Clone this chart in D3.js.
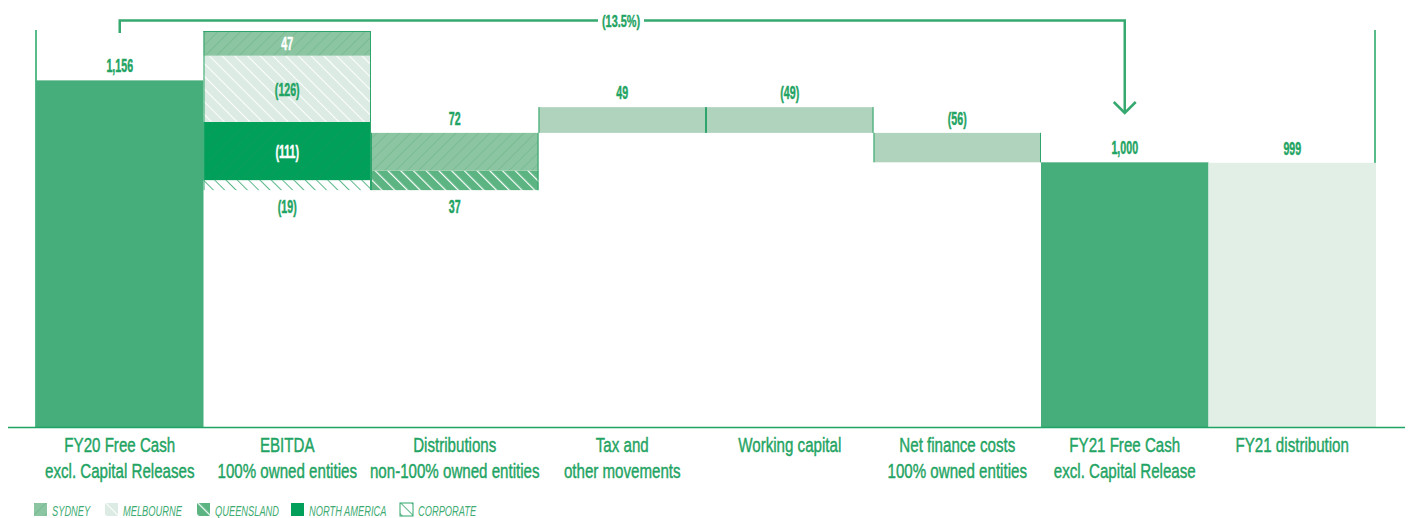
<!DOCTYPE html>
<html>
<head>
<meta charset="utf-8">
<script src="https://cdn.jsdelivr.net/npm/d3@7"></script>
<style>
  body { margin: 0; background: #fff; }
  svg { display: block; }
  text { font-family: "Liberation Sans", Arial, sans-serif; }
</style>
</head>
<body>
<script>
// categories along the bottom (one array entry per line)
var categories = [
  ["FY20 Free Cash", "excl. Capital Releases"],
  ["EBITDA", "100% owned entities"],
  ["Distributions", "non-100% owned entities"],
  ["Tax and", "other movements"],
  ["Working capital"],
  ["Net finance costs", "100% owned entities"],
  ["FY21 Free Cash", "excl. Capital Release"],
  ["FY21 distribution"]
];

var regions = ["Sydney", "Melbourne", "Queensland", "North America", "Corporate"];

// $m values
var fy20Total = 1156;
var ebitdaByRegion = [47, -126, 0, -111, -19];
var distribByRegion = [72, 0, 37, 0, 0];
var otherMoves = [49, -49, -56];   // tax, working capital, net finance
var fy21Total = 1000;
var fy21Distribution = 999;
var changeLabel = "(13.5%)";

var width = 1408,
    height = 518;

var green = "#1fa463";

var svg = d3.select("body").append("svg")
    .attr("width", width)
    .attr("height", height);

var defs = svg.append("defs");

function pid(r) { return "pat-" + r.replace(/\s+/g, "-"); }

// hatch patterns, one per region
function hatch(r, bg, line, lw, size, dir) {
  var p = defs.append("pattern")
      .attr("id", pid(r))
      .attr("patternUnits", "userSpaceOnUse")
      .attr("width", size)
      .attr("height", size)
      .attr("patternTransform", "rotate(" + (dir > 0 ? 45 : -45) + ")");
  p.append("rect").attr("width", size).attr("height", size).attr("fill", bg);
  p.append("line")
      .attr("x1", 0).attr("y1", 0).attr("x2", 0).attr("y2", size)
      .attr("stroke", line).attr("stroke-width", lw);
}
hatch("Sydney", "#8cc5a1", "#6cb68b", 1.2, 8, 1);
hatch("Melbourne", "#dcebe3", "#ffffff", 2, 9, -1);
hatch("Queensland", "#5cb482", "#ffffff", 2.4, 9, -1);
hatch("North America", "#00a05a", "#17995c", 1, 9, 1);
hatch("Corporate", "#ffffff", "#2ea56b", 1.6, 8, -1);

var regionFill = function(r) { return "url(#" + pid(r) + ")"; };
var regionText = { "Sydney": "#fff", "Melbourne": green, "Queensland": "#fff", "North America": "#fff", "Corporate": green };

// condensed look: squeeze text horizontally around its anchor
function squeeze(sel, sx) {
  sel.attr("transform", function() {
    var t = d3.select(this);
    return "translate(" + t.attr("x") + "," + t.attr("y") + ") scale(" + sx + ",1)";
  }).attr("x", 0).attr("y", 0);
}

var x = d3.scaleBand()
    .domain(d3.range(categories.length))
    .range([36, 1376])
    .padding(0);

var y = d3.scaleLinear()
    .domain([496, 1250])
    .range([427, 31]);

var fmt = d3.format(",");
function label(v) { return v < 0 ? "(" + fmt(-v) + ")" : fmt(v); }

// build the waterfall steps
var steps = [];
var level = fy20Total;
steps.push({ i: 0, segs: [{ lo: y.domain()[0], hi: fy20Total, fill: "#46ae7a", v: fy20Total }] });

function breakdown(i, byRegion) {
  var net = d3.sum(byRegion);
  var base = Math.min(level, level + net);
  var segs = [];
  var cur = base;
  for (var k = regions.length - 1; k >= 0; k--) {
    var v = byRegion[k];
    if (!v) continue;
    segs.push({ lo: cur, hi: cur + Math.abs(v), fill: regionFill(regions[k]), v: v, region: regions[k] });
    cur += Math.abs(v);
  }
  level += net;
  steps.push({ i: i, segs: segs, breakdown: true });
}
breakdown(1, ebitdaByRegion);
breakdown(2, distribByRegion);

otherMoves.forEach(function(v, k) {
  var lo = Math.min(level, level + v), hi = Math.max(level, level + v);
  steps.push({ i: 3 + k, segs: [{ lo: lo, hi: hi, fill: "#b0d3bd", v: v }] });
  level += v;
});

steps.push({ i: 6, segs: [{ lo: y.domain()[0], hi: fy21Total, fill: "#46ae7a", v: fy21Total }] });
steps.push({ i: 7, segs: [{ lo: y.domain()[0], hi: fy21Distribution, fill: "#e2efe7", v: fy21Distribution }] });

// frame lines left and right
svg.selectAll(".frame")
    .data([x.range()[0], x.range()[1] - 1])
  .enter().append("line")
    .attr("x1", function(d) { return d; }).attr("x2", function(d) { return d; })
    .attr("y1", 30).attr("y2", 427)
    .attr("stroke", green).attr("stroke-width", 1.5);

var g = svg.selectAll(".step")
    .data(steps)
  .enter().append("g")
    .attr("class", "step");

g.selectAll("rect")
    .data(function(d) { return d.segs; })
  .enter().append("rect")
    .attr("x", function() { return x(d3.select(this.parentNode).datum().i); })
    .attr("width", x.bandwidth())
    .attr("y", function(d) { return y(d.hi); })
    .attr("height", function(d) { return y(d.lo) - y(d.hi); })
    .attr("fill", function(d) { return d.fill; });

// thin edges on the moving bars
g.filter(function(d) { return d.i > 0 && d.i < 6; }).each(function(d) {
  var top = d3.max(d.segs, function(s) { return s.hi; }),
      bot = d3.min(d.segs, function(s) { return s.lo; });
  var sel = d3.select(this);
  [x(d.i) + 0.5, x(d.i) + x.bandwidth() - 0.5].forEach(function(xx) {
    sel.append("line")
        .attr("x1", xx).attr("x2", xx)
        .attr("y1", y(top)).attr("y2", y(bot))
        .attr("stroke", "#2ea56b").attr("stroke-width", 1);
  });
  if (d.i === 1) {
    sel.append("line")
        .attr("x1", x(d.i)).attr("x2", x(d.i) + x.bandwidth())
        .attr("y1", y(top) + 0.5).attr("y2", y(top) + 0.5)
        .attr("stroke", "#2ea56b").attr("stroke-width", 1);
  }
});

// value labels
g.each(function(d) {
  var sel = d3.select(this);
  var cx = x(d.i) + x.bandwidth() / 2;
  var n = d.segs.length;
  d.segs.forEach(function(s, k) {
    var h = y(s.lo) - y(s.hi);
    var ty, col = green;
    if (d.breakdown && d.i === 1 && h > 16) {
      ty = (y(s.lo) + y(s.hi)) / 2 + 7;
      col = regionText[s.region];
    } else if (d.breakdown && k === 0 && n > 1) {
      ty = y(s.lo) + 23;
    } else {
      ty = y(s.hi) - 8;
    }
    sel.append("text")
        .attr("x", cx)
        .attr("y", ty)
        .attr("text-anchor", "middle")
        .attr("font-size", 19)
        .attr("font-weight", "bold")
        .attr("fill", col)
        .attr("stroke", col)
        .attr("stroke-width", 0.5)
        .text(label(s.v))
        .call(squeeze, 0.56);
  });
});

// baseline
svg.append("line")
    .attr("x1", 8).attr("x2", 1405)
    .attr("y1", 427.5).attr("y2", 427.5)
    .attr("stroke", green).attr("stroke-width", 1.5);

// category labels
var cat = svg.selectAll(".cat")
    .data(categories)
  .enter().append("text")
    .attr("class", "cat")
    .attr("text-anchor", "middle")
    .attr("font-size", 21)
    .attr("fill", green)
    .attr("stroke", green)
    .attr("stroke-width", 0.45)
    .attr("transform", function(d, i) { return "translate(" + (x(i) + x.bandwidth() / 2) + ",452) scale(0.72,1)"; });
cat.selectAll("tspan")
    .data(function(d) { return d; })
  .enter().append("tspan")
    .attr("x", 0)
    .attr("dy", function(d, i) { return i ? 26 : 0; })
    .text(function(d) { return d; });

// change bracket from FY20 to FY21
var x0 = x(0) + x.bandwidth() / 2,
    x1 = x(6) + x.bandwidth() / 2,
    by = 20.5;
svg.append("path")
    .attr("d", "M" + x0 + "," + 33 + "V" + by + "H" + x1 + "V" + 113)
    .attr("fill", "none")
    .attr("stroke", "#35a96f")
    .attr("stroke-width", 2.5);
svg.append("path")
    .attr("d", "M" + (x1 - 11) + ",102L" + x1 + ",113L" + (x1 + 11) + ",102")
    .attr("fill", "none")
    .attr("stroke", "#35a96f")
    .attr("stroke-width", 2.5);
var mid = 621;
svg.append("rect")
    .attr("x", mid - 23).attr("y", by - 8)
    .attr("width", 46).attr("height", 16)
    .attr("fill", "#fff");
svg.append("text")
    .attr("x", mid)
    .attr("y", by + 6.5)
    .attr("text-anchor", "middle")
    .attr("font-size", 17)
    .attr("font-weight", "bold")
    .attr("fill", green)
    .attr("stroke", green)
    .attr("stroke-width", 0.4)
    .text(changeLabel)
    .call(squeeze, 0.64);

// legend
var legendX = [34, 105, 197, 291, 400];
var leg = svg.selectAll(".leg")
    .data(regions)
  .enter().append("g")
    .attr("class", "leg")
    .attr("transform", function(d, i) { return "translate(" + legendX[i] + ",503)"; });
leg.append("rect")
    .attr("width", 13).attr("height", 13)
    .attr("fill", function(d) { return regionFill(d); })
    .attr("stroke", function(d) { return d === "Corporate" ? "#2ea56b" : "none"; })
    .attr("stroke-width", 1);
leg.append("text")
    .attr("x", 18)
    .attr("y", 12.5)
    .attr("font-size", 15)
    .attr("font-style", "italic")
    .attr("fill", "#3dab72")
    .text(function(d) { return d.toUpperCase(); })
    .call(squeeze, 0.62);
</script>
</body>
</html>
